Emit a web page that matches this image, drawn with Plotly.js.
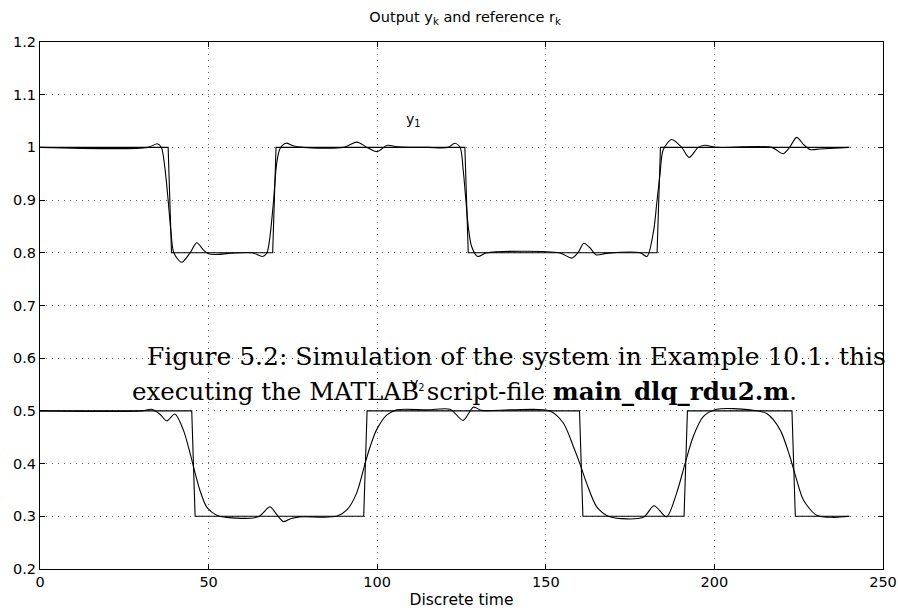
<!DOCTYPE html>
<html>
<head>
<meta charset="utf-8">
<script src="https://cdn.plot.ly/plotly-3.0.1.min.js"></script>
<style>html,body{margin:0;padding:0;background:#fff;}#chart{width:898px;height:610px;}</style>
</head>
<body>
<div id="chart"></div>
<script>
// Reference r1 (step points)
const r1X = [0, 38, 39, 69, 70, 126, 127, 183, 184, 240];
const r1Y = [1, 1, 0.8, 0.8, 1, 1, 0.8, 0.8, 1, 1];
// Reference r2
const r2X = [0, 45, 46, 96, 97, 160, 161, 191, 192, 223, 224, 240];
const r2Y = [0.5, 0.5, 0.3, 0.3, 0.5, 0.5, 0.3, 0.3, 0.5, 0.5, 0.3, 0.3];
// Output y1
const y1X = [0, 32, 34.8, 36, 37, 38, 38.8, 39.7, 42, 44.5, 46.5, 48.5, 50, 53, 56, 63, 66, 67.3, 68.2, 69.2, 70.2, 71.2, 73, 75, 78, 90, 94, 97, 100, 103, 106, 115, 121, 123, 124.6, 125.5, 126.3, 127, 128, 129.8, 132.5, 154, 157.7, 159.5, 161.3, 163, 165, 168, 178, 180, 182, 182.9, 183.9, 184.8, 187.3, 190.3, 192.5, 195.2, 197.2, 200.7, 217, 220.4, 222.3, 224.4, 226.5, 228.4, 231.3, 240];
const y1Y = [1, 1, 1.007, 1.0, 0.963, 0.90, 0.842, 0.80, 0.782, 0.80, 0.819, 0.805, 0.798, 0.797, 0.799, 0.800, 0.793, 0.80, 0.831, 0.894, 0.970, 0.998, 1.008, 1.003, 1.0, 1.0, 1.01, 1.0, 0.992, 1.004, 1.001, 1.0, 1.0, 1.008, 1.0, 0.957, 0.90, 0.85, 0.812, 0.793, 0.80, 0.80, 0.790, 0.80, 0.818, 0.81, 0.796, 0.799, 0.80, 0.793, 0.843, 0.894, 0.951, 0.995, 1.015, 1.0, 0.981, 1.0, 1.004, 1.0, 1.0, 0.988, 1.0, 1.019, 1.005, 0.996, 0.997, 1.0];
// Output y2
const y2X = [0, 30, 33.1, 35.5, 37.6, 40, 42.5, 44.5, 46, 47.4, 49.4, 52.4, 55.4, 64.7, 68.2, 70, 72.2, 74.5, 77, 88, 91, 93.9, 96.4, 97.9, 99.8, 102.8, 105.8, 115, 121.6, 125.5, 128.5, 131, 140, 151.2, 155.2, 158.2, 160.1, 162.1, 165.1, 169, 178.9, 182.1, 185.8, 188.8, 191.3, 193.7, 196.7, 200.7, 210.6, 215.5, 219.5, 222.4, 224.4, 226.4, 230.3, 235.3, 240];
const y2Y = [0.5, 0.5, 0.503, 0.494, 0.481, 0.494, 0.464, 0.420, 0.382, 0.35, 0.318, 0.302, 0.298, 0.299, 0.318, 0.305, 0.290, 0.296, 0.299, 0.300, 0.312, 0.344, 0.40, 0.432, 0.464, 0.492, 0.502, 0.502, 0.503, 0.482, 0.507, 0.501, 0.502, 0.50, 0.477, 0.432, 0.40, 0.363, 0.318, 0.299, 0.298, 0.320, 0.299, 0.344, 0.40, 0.451, 0.489, 0.503, 0.502, 0.495, 0.464, 0.413, 0.369, 0.331, 0.302, 0.298, 0.30];
const xTicks = [0, 50, 100, 150, 200, 250];
const yTicks = [0.2, 0.3, 0.4, 0.5, 0.6, 0.7, 0.8, 0.9, 1, 1.1, 1.2];
const yTickText = ['0.2','0.3','0.4','0.5','0.6','0.7','0.8','0.9','1','1.1','1.2'];

const lineStyle = {color: '#000', width: 1.1};
const data = [
  {x: r1X, y: r1Y, mode: 'lines', line: lineStyle, hoverinfo: 'skip'},
  {x: y1X, y: y1Y, mode: 'lines', line: Object.assign({shape: 'spline', smoothing: 0.8}, lineStyle), hoverinfo: 'skip'},
  {x: r2X, y: r2Y, mode: 'lines', line: lineStyle, hoverinfo: 'skip'},
  {x: y2X, y: y2Y, mode: 'lines', line: Object.assign({shape: 'spline', smoothing: 0.8}, lineStyle), hoverinfo: 'skip'}
];
const sans = '"DejaVu Sans", Arial, sans-serif';
const serif = '"DejaVu Serif", "Liberation Serif", serif';
const axFont = {family: sans, size: 14.5, color: '#000'};
const layout = {
  width: 898, height: 610,
  margin: {l: 40, r: 15, t: 42, b: 41},
  paper_bgcolor: '#fff', plot_bgcolor: '#fff',
  showlegend: false,
  font: axFont,
  title: {text: 'Output y<sub>k</sub> and reference r<sub>k</sub>', xref: 'container', x: 0.518, xanchor: 'center', y: 0.972, yanchor: 'middle', font: {family: sans, size: 14.5, color: '#000'}},
  xaxis: {
    range: [0, 250], tickvals: xTicks, ticktext: xTicks.map(String),
    showline: true, linecolor: '#000', linewidth: 1, mirror: 'ticks',
    ticks: 'inside', ticklen: 5, tickcolor: '#000',
    showgrid: true, gridcolor: '#666', griddash: '1px,5px', gridwidth: 1,
    zeroline: false, tickfont: axFont,
    title: {text: 'Discrete time', font: {family: sans, size: 15.5, color: '#000'}, standoff: 4}
  },
  yaxis: {
    range: [0.2, 1.2], tickvals: yTicks, ticktext: yTickText,
    showline: true, linecolor: '#000', linewidth: 1, mirror: 'ticks',
    ticks: 'inside', ticklen: 5, tickcolor: '#000',
    showgrid: true, gridcolor: '#666', griddash: '1px,5px', gridwidth: 1,
    zeroline: false, tickfont: axFont
  },
  annotations: [
    {x: 108, y: 1.052, xref: 'x', yref: 'y', text: 'y<sub>1</sub>', showarrow: false, xanchor: 'left', yanchor: 'middle', font: {family: sans, size: 14, color: '#000'}},
    {x: 109, y: 0.552, xref: 'x', yref: 'y', text: 'y<sub>2</sub>', showarrow: false, xanchor: 'left', yanchor: 'middle', font: {family: sans, size: 14, color: '#000'}},
    {x: 0.1246, y: 0.404, xref: 'paper', yref: 'paper', text: 'Figure 5.2: Simulation of the system in Example 10.1. this', showarrow: false, xanchor: 'left', yanchor: 'middle', font: {family: serif, size: 25, color: '#000'}},
    {x: 0.1068, y: 0.336, xref: 'paper', yref: 'paper', text: 'executing the MATLAB script-file <b>main_dlq_rdu2.m</b>.', showarrow: false, xanchor: 'left', yanchor: 'middle', font: {family: serif, size: 24.5, color: '#000'}}
  ]
};
Plotly.newPlot('chart', data, layout, {staticPlot: true, displayModeBar: false});
</script>
</body>
</html>
